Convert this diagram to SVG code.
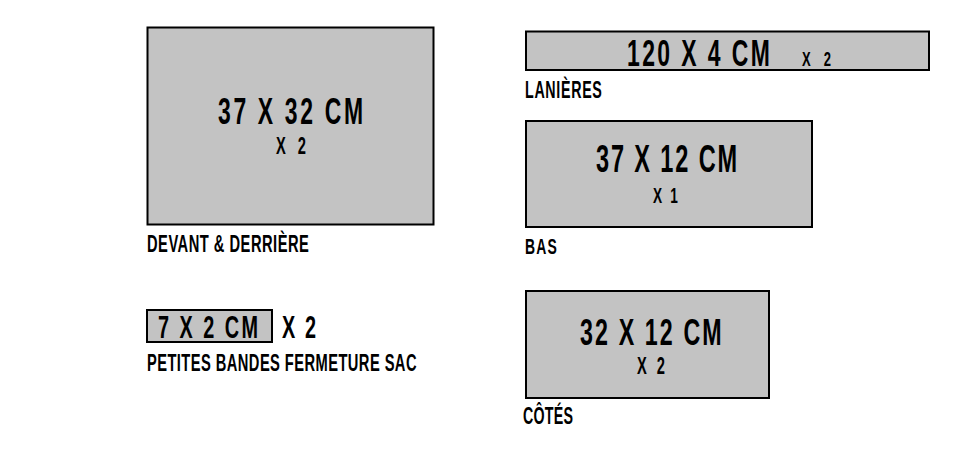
<svg xmlns="http://www.w3.org/2000/svg" width="960" height="450" viewBox="0 0 960 450">
<style>
.piece{fill:#c3c3c3;stroke:#000;stroke-width:2}
text{font-family:"Liberation Sans",Arial,sans-serif;font-weight:bold;fill:#000}
</style>
<rect width="960" height="450" fill="#fff"/>
<g id="devant-derriere">
<rect class="piece" x="147.5" y="27.5" width="286" height="197"/>
<text transform="translate(218,124) scale(0.62,1)" font-size="37" letter-spacing="4.3">37 X 32 CM</text>
<text transform="translate(276,154) scale(0.62,1)" font-size="23.7" letter-spacing="6.4">X 2</text>
<text transform="translate(147,252) scale(0.62,1)" font-size="23.7" letter-spacing="0.8">DEVANT &amp; DERRIÈRE</text>
</g>
<g id="lanieres">
<rect class="piece" x="526" y="31.5" width="403" height="38.5"/>
<text transform="translate(627,65.5) scale(0.62,1)" font-size="37" letter-spacing="3.9">120 X 4 CM</text>
<text transform="translate(802,65.5) scale(0.62,1)" font-size="21" letter-spacing="7.6">X 2</text>
<text transform="translate(525,98) scale(0.62,1)" font-size="23" letter-spacing="1.1">LANIÈRES</text>
</g>
<g id="bas">
<rect class="piece" x="526" y="121" width="286" height="106"/>
<text transform="translate(596,172) scale(0.62,1)" font-size="38" letter-spacing="3">37 X 12 CM</text>
<text transform="translate(653,202.5) scale(0.62,1)" font-size="22" letter-spacing="3.6">X 1</text>
<text transform="translate(525,254) scale(0.62,1)" font-size="22.5" letter-spacing="2">BAS</text>
</g>
<g id="petites-bandes">
<rect class="piece" x="147" y="310" width="125" height="32"/>
<text transform="translate(158,338) scale(0.62,1)" font-size="32" letter-spacing="4">7 X 2 CM</text>
<text transform="translate(282,338) scale(0.62,1)" font-size="32" letter-spacing="3.4">X 2</text>
<text transform="translate(147,371) scale(0.62,1)" font-size="23.7" letter-spacing="0.7">PETITES BANDES FERMETURE SAC</text>
</g>
<g id="cotes">
<rect class="piece" x="526" y="291" width="243" height="107"/>
<text transform="translate(580,345) scale(0.62,1)" font-size="37.5" letter-spacing="3.4">32 X 12 CM</text>
<text transform="translate(637,374) scale(0.62,1)" font-size="23.7" letter-spacing="4.8">X 2</text>
<text transform="translate(523,424) scale(0.62,1)" font-size="23" letter-spacing="0.35">CÔTÉS</text>
</g>
<g id="connectors"/>
</svg>
